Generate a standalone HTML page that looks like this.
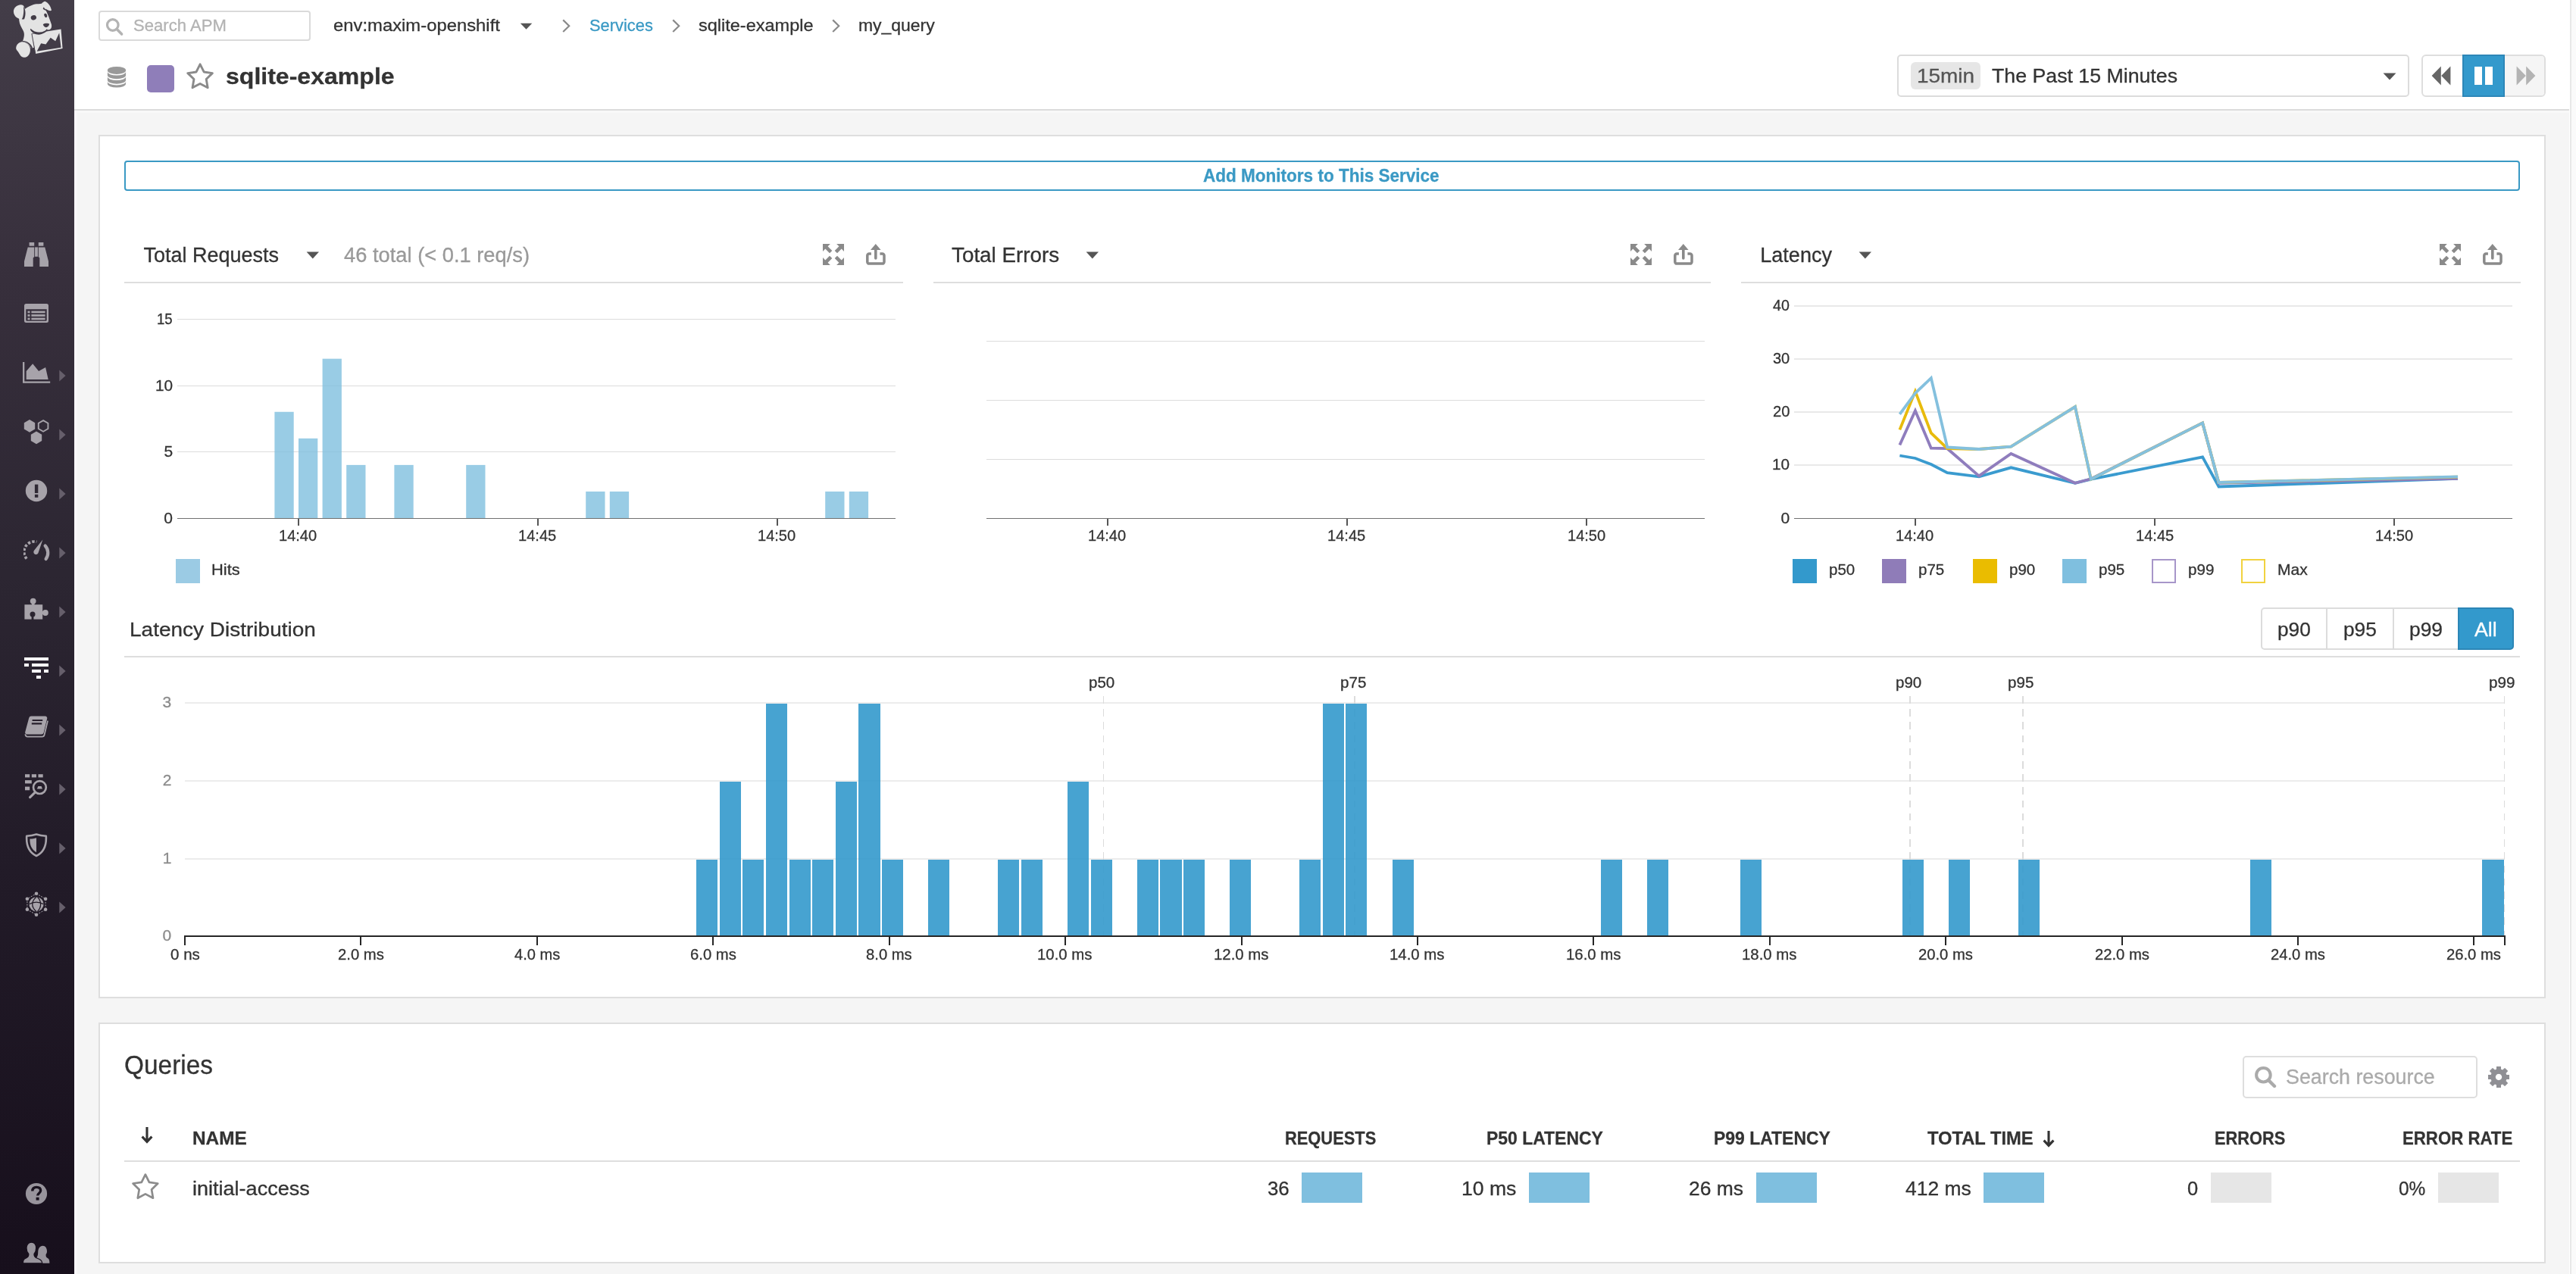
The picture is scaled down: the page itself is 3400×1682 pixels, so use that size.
<!DOCTYPE html>
<html><head><meta charset="utf-8"><title>sqlite-example | APM</title>
<style>
html,body{margin:0;padding:0}
body{width:3400px;height:1682px;overflow:hidden;position:relative;background:#f5f5f5;font-family:"Liberation Sans",sans-serif}
.t{position:absolute;white-space:pre;line-height:1;display:block;transform-origin:0 0;-webkit-text-stroke:0.3px}
.r{position:absolute;display:block}
</style></head>
<body>
<div id="w" style="position:absolute;left:0;top:0;width:3400px;height:1682px;will-change:transform">
<div class="r" style="left:98.00px;top:0.00px;width:3302.00px;height:1682.00px;background:#f5f5f5;"></div>
<div class="r" style="left:98.00px;top:0.00px;width:3302.00px;height:144.00px;background:#fff;border-bottom:2px solid #dcdcdc;"></div>
<div class="r" style="left:98.00px;top:146.00px;width:3293.00px;height:3.00px;background:#f8f8f8;"></div>
<div class="r" style="left:98.00px;top:146.00px;width:4.00px;height:1536.00px;background:#f9f7f9;"></div>
<div class="r" style="left:130px;top:14px;width:280px;height:40px;box-sizing:border-box;border:2px solid #dadada;border-radius:4px;background:#fff"></div>
<svg class="r" style="left:138px;top:22px" width="28" height="28" viewBox="0 0 28 28"><circle cx="10.8" cy="11" r="7.3" fill="none" stroke="#b3b3b3" stroke-width="3.2"/><path d="M16.2 16.6 L22.6 23" stroke="#b3b3b3" stroke-width="3.6" stroke-linecap="round"/></svg>
<span class="t" style="left:175.91px;top:23.25px;font-size:22.5px;color:#b3b3b3;transform:scaleX(0.9822);">Search APM</span>
<span class="t" style="left:439.55px;top:22.65px;font-size:22.5px;color:#333;transform:scaleX(1.0593);">env:maxim-openshift</span>
<svg class="r" style="left:686px;top:30px" width="18" height="10" viewBox="0 0 18 10"><path d="M0.8 0.8 H16.3 L8.55 8.8 Z" fill="#555"/></svg>
<svg class="r" style="left:742px;top:25px" width="12" height="20" viewBox="0 0 12 20"><path d="M1.2 1.4 L9.2 9.2 L1.2 17" fill="none" stroke="#8a8a8a" stroke-width="2.2"/></svg>
<svg class="r" style="left:887px;top:25px" width="12" height="20" viewBox="0 0 12 20"><path d="M1.2 1.4 L9.2 9.2 L1.2 17" fill="none" stroke="#8a8a8a" stroke-width="2.2"/></svg>
<svg class="r" style="left:1098.3px;top:25px" width="12" height="20" viewBox="0 0 12 20"><path d="M1.2 1.4 L9.2 9.2 L1.2 17" fill="none" stroke="#8a8a8a" stroke-width="2.2"/></svg>
<span class="t" style="left:777.72px;top:22.65px;font-size:22.5px;color:#3a99c4;transform:scaleX(0.9717);">Services</span>
<span class="t" style="left:921.79px;top:22.65px;font-size:22.5px;color:#333;transform:scaleX(1.0445);">sqlite-example</span>
<span class="t" style="left:1132.51px;top:22.65px;font-size:22.5px;color:#333;transform:scaleX(1.0194);">my_query</span>
<svg class="r" style="left:0;top:0" width="400" height="160" viewBox="0 0 400 160"><g fill="#999"><ellipse cx="154.0" cy="92.9" rx="12.1" ry="5.0"/><path d="M141.9 94.6 A12.1 5.0 0 0 0 166.1 94.6 V99.2 A12.1 5.0 0 0 1 141.9 99.2Z"/><path d="M141.9 101.1 A12.1 5.0 0 0 0 166.1 101.1 V105.7 A12.1 5.0 0 0 1 141.9 105.7Z"/><path d="M141.9 107.5 A12.1 5.0 0 0 0 166.1 107.5 V110.6 A12.1 5.0 0 0 1 141.9 110.6Z"/></g></svg>
<div class="r" style="left:194.30px;top:86.30px;width:35.50px;height:35.50px;background:#8f7eb9;border-radius:5px;"></div>
<svg class="r" style="left:0;top:0" width="3400" height="1682" viewBox="0 0 3400 1682"><polygon points="264.10,84.80 269.13,94.98 280.36,96.62 272.23,104.54 274.15,115.73 264.10,110.45 254.05,115.73 255.97,104.54 247.84,96.62 259.07,94.98" fill="none" stroke="#8a8a8a" stroke-width="2.9" stroke-linejoin="round"/></svg>
<span class="t" style="left:297.68px;top:86.33px;font-size:29.5px;color:#333;font-weight:bold;transform:scaleX(1.0862);">sqlite-example</span>
<div class="r" style="left:2504px;top:72px;width:676px;height:56px;box-sizing:border-box;border:2px solid #dcdcdc;border-radius:5px;background:#fff"></div>
<div class="r" style="left:2522.30px;top:82.00px;width:91.60px;height:36.00px;background:#e6e6e6;border-radius:6px;"></div>
<span class="t" style="left:2529.71px;top:87.71px;font-size:25.5px;color:#555;transform:scaleX(1.0953);">15min</span>
<span class="t" style="left:2629.47px;top:87.71px;font-size:25.5px;color:#333;transform:scaleX(1.0476);">The Past 15 Minutes</span>
<svg class="r" style="left:3145px;top:96px" width="18" height="10" viewBox="0 0 18 10"><path d="M0.5 0.5 H17.5 L9 9.6 Z" fill="#555"/></svg>
<div class="r" style="left:3196px;top:72px;width:164px;height:56px;box-sizing:border-box;border:2px solid #dedede;border-radius:6px;background:#fff;overflow:hidden"><div style="position:absolute;left:108px;top:0;width:60px;height:56px;background:#f5f5f5"></div></div>
<div class="r" style="left:3250.00px;top:72.00px;width:56.00px;height:56.00px;background:#3399cc;box-sizing:border-box;border:2px solid #2d87b8;"></div>
<svg class="r" style="left:3209px;top:87px" width="26" height="26" viewBox="0 0 26 26"><path d="M12.8 0.6 V25.4 L0.6 13Z M25.4 0.6 V25.4 L13.2 13Z" fill="#666"/></svg>
<div class="r" style="left:3265.70px;top:88.00px;width:10.00px;height:24.00px;background:#fff;"></div>
<div class="r" style="left:3280.00px;top:88.00px;width:10.00px;height:24.00px;background:#fff;"></div>
<svg class="r" style="left:3321px;top:87px" width="26" height="26" viewBox="0 0 26 26"><path d="M0.6 0.6 V25.4 L12.8 13Z M13.2 0.6 V25.4 L25.4 13Z" fill="#b3b3b3"/></svg>
<div class="r" style="left:3391.00px;top:0.00px;width:1.00px;height:1682.00px;background:#fff;"></div>
<div class="r" style="left:3392.00px;top:0.00px;width:2.00px;height:1682.00px;background:#e8e8e8;"></div>
<div class="r" style="left:3394.00px;top:0.00px;width:6.00px;height:1682.00px;background:#fafafa;"></div>
<div class="r" style="left:0;top:0;width:98px;height:1682px;background:linear-gradient(180deg,#433d48 0%,#372f3c 22%,#2c2632 45%,#221b28 68%,#170f1c 100%)"></div>
<svg class="r" style="left:0;top:0" width="100" height="100" viewBox="0 0 1274 1274">
<g fill="#e3e3e3">
<path d="M228 190 C228 112 328 56 388 88 C432 130 428 250 400 322 C340 338 228 292 228 190Z"/>
<path d="M322 345 C305 235 420 125 540 85 C600 55 660 75 700 62 C720 40 740 22 762 24 C812 40 862 120 866 176 C840 192 790 162 760 146 C800 230 832 310 862 400 C882 462 850 512 800 500 C770 540 700 562 650 556 L552 578 L575 800 L522 812 C500 760 440 702 378 702 C402 640 420 580 392 520 C360 460 328 410 322 345Z"/>
<path d="M272 790 C290 720 360 690 420 712 C490 740 520 800 506 870 C490 940 440 980 384 962 C340 950 330 900 296 860 C276 840 264 820 272 790Z"/>
<path d="M538 568 L1026 492 L1052 816 L600 906Z"/>
</g>
<g fill="#423c47">
<path d="M620 862 L690 730 L770 746 L850 634 L932 690 L996 554 L1026 800Z"/>
<ellipse cx="565" cy="296" rx="47" ry="40" transform="rotate(-20 565 296)"/>
<ellipse cx="768" cy="260" rx="24" ry="36" transform="rotate(-20 768 260)"/>
<path d="M724 410 C745 390 805 386 830 402 C824 442 790 464 768 460 C744 452 728 432 724 410Z"/>
<path d="M516 482 C560 532 640 556 700 540 C745 528 772 512 788 488 L800 500 C775 545 720 576 650 582 C585 580 535 548 508 496Z"/>
<path d="M392 108 C432 150 440 250 408 322 C395 326 380 326 366 322 C392 300 408 170 392 108Z"/>
<path d="M722 150 C745 167 770 182 802 187 C775 175 750 150 736 118Z"/>
<path d="M372 702 C440 696 505 750 524 814 L548 806 C526 736 450 684 386 688Z"/>
</g>
<path d="M534 566 L596 912" stroke="#423c47" stroke-width="12" fill="none"/>
<path d="M534 570 L700 544" stroke="#423c47" stroke-width="9" fill="none"/>
</svg>
<svg class="r" style="left:32px;top:319.8px" width="32" height="32" viewBox="0 0 32 32"><g fill="#a7a3aa">
<rect x="6.6" y="0" width="6.6" height="4.7"/><rect x="18.8" y="0" width="6.6" height="4.7"/>
<path d="M4.7 6.4 H13.2 V19 L11.7 20.5 V32 H0 V25Z"/><path d="M27.3 6.4 H18.8 V19 L20.3 20.5 V32 H32 V25Z"/>
<rect x="14.1" y="6.4" width="3.8" height="12.4"/></g></svg>
<svg class="r" style="left:32px;top:401px" width="32" height="25" viewBox="0 0 32 25">
<path fill-rule="evenodd" fill="#a7a3aa" d="M2.5 0 H29.5 A2.5 2.5 0 0 1 32 2.5 V22.5 A2.5 2.5 0 0 1 29.5 25 H2.5 A2.5 2.5 0 0 1 0 22.5 V2.5 A2.5 2.5 0 0 1 2.5 0Z M2.3 7.2 V21.6 A1 1 0 0 0 3.3 22.7 H28.7 A1 1 0 0 0 29.7 21.6 V7.2Z"/>
<g fill="#a7a3aa"><rect x="4.5" y="9.6" width="3" height="2.7"/><rect x="9.4" y="9.6" width="18.2" height="2.7"/>
<rect x="4.5" y="14.1" width="3" height="2.7"/><rect x="9.4" y="14.1" width="18.2" height="2.7"/>
<rect x="4.5" y="18.6" width="3" height="2.7"/><rect x="9.4" y="18.6" width="18.2" height="2.7"/></g></svg>
<svg class="r" style="left:29.8px;top:478px" width="37" height="28" viewBox="0 0 37 28"><g fill="#a7a3aa">
<path d="M0 0 H2.3 V25.4 H36.2 V27.7 H0Z"/><path d="M4.7 23 V12 L13.2 2.3 L21.1 12 L30.1 7 L33.7 23Z"/></g></svg>
<svg class="r" style="left:78px;top:488.3px" width="10" height="16" viewBox="0 0 10 16"><path d="M0.3 0.5 L8.6 8 L0.3 15.5Z" fill="#665f6b"/></svg>
<svg class="r" style="left:31px;top:553px" width="35" height="35" viewBox="0 0 35 35">
<polygon points="8.00,1.10 15.19,5.25 15.19,13.55 8.00,17.70 0.81,13.55 0.81,5.25" fill="#a7a3aa"/><polygon points="17.00,16.60 24.19,20.75 24.19,29.05 17.00,33.20 9.81,29.05 9.81,20.75" fill="#a7a3aa"/>
<polygon points="26.10,2.10 32.42,5.75 32.42,13.05 26.10,16.70 19.78,13.05 19.78,5.75" fill="none" stroke="#a7a3aa" stroke-width="1.9"/></svg>
<svg class="r" style="left:78px;top:566.3px" width="10" height="16" viewBox="0 0 10 16"><path d="M0.3 0.5 L8.6 8 L0.3 15.5Z" fill="#665f6b"/></svg>
<svg class="r" style="left:33px;top:633px" width="30" height="30" viewBox="0 0 30 30"><circle cx="15" cy="15" r="14.2" fill="#a7a3aa"/>
<rect x="12.9" y="6.6" width="4.4" height="11.4" fill="#2f2934"/><rect x="12.9" y="19.8" width="4.4" height="4" fill="#2f2934"/></svg>
<svg class="r" style="left:78px;top:644.0px" width="10" height="16" viewBox="0 0 10 16"><path d="M0.3 0.5 L8.6 8 L0.3 15.5Z" fill="#665f6b"/></svg>
<svg class="r" style="left:31px;top:711px" width="35" height="30" viewBox="0 0 35 30">
<path d="M4.2 26.6 A13.6 13.6 0 0 1 17.4 4.3" fill="none" stroke="#a7a3aa" stroke-width="3.6" stroke-dasharray="3.4 2.2"/>
<path d="M28.6 9.5 A13.8 13.8 0 0 1 29.6 27" fill="none" stroke="#a7a3aa" stroke-width="4.2" stroke-linecap="round"/>
<path d="M25.4 1.6 L14.2 15.6 A3.2 3.2 0 1 0 19.4 19.2Z" fill="#a7a3aa"/></svg>
<svg class="r" style="left:78px;top:721.7px" width="10" height="16" viewBox="0 0 10 16"><path d="M0.3 0.5 L8.6 8 L0.3 15.5Z" fill="#665f6b"/></svg>
<svg class="r" style="left:31px;top:789px" width="34" height="30" viewBox="0 0 34 30">
<g fill="#a7a3aa"><rect x="1.4" y="9.2" width="23.8" height="19.4"/><circle cx="12.7" cy="4.6" r="3.9"/><rect x="10.9" y="5" width="3.6" height="5"/>
<circle cx="28.9" cy="20" r="3.9"/><rect x="24" y="18.2" width="5" height="3.6"/></g>
<circle cx="12" cy="22" r="3.5" fill="#2a242f"/><rect x="10.6" y="23" width="2.8" height="6" fill="#2a242f"/></svg>
<svg class="r" style="left:78px;top:800.0px" width="10" height="16" viewBox="0 0 10 16"><path d="M0.3 0.5 L8.6 8 L0.3 15.5Z" fill="#665f6b"/></svg>
<div class="r" style="left:31.65px;top:867.59px;width:32.40px;height:4.52px;background:#fff;"></div>
<div class="r" style="left:31.65px;top:875.88px;width:6.41px;height:4.33px;background:#fff;"></div>
<div class="r" style="left:41.82px;top:875.88px;width:22.23px;height:4.33px;background:#fff;"></div>
<div class="r" style="left:41.82px;top:883.79px;width:12.43px;height:4.52px;background:#fff;"></div>
<div class="r" style="left:58.03px;top:883.79px;width:6.03px;height:4.52px;background:#fff;"></div>
<div class="r" style="left:48.04px;top:892.08px;width:6.22px;height:4.14px;background:#fff;"></div>
<svg class="r" style="left:78px;top:877.9px" width="10" height="16" viewBox="0 0 10 16"><path d="M0.3 0.5 L8.6 8 L0.3 15.5Z" fill="#665f6b"/></svg>
<svg class="r" style="left:32px;top:945px" width="32" height="30" viewBox="0 0 32 30">
<path d="M9.4 0.6 H27.6 A2.6 2.6 0 0 1 30.2 3.8 L25.6 22.4 A3 3 0 0 1 22.8 24.6 H3.6 A2.6 2.6 0 0 1 1.2 21.4 L6.2 3 A3.2 3.2 0 0 1 9.4 0.6Z" fill="#a7a3aa"/>
<path d="M1.6 24.2 A2.8 2.8 0 0 0 4.4 27.6 H23.4 A3.2 3.2 0 0 0 26.6 25 L31 6.6" fill="none" stroke="#a7a3aa" stroke-width="1.8"/>
<path d="M10.6 6 H24.2 M9.8 10.4 H23.2" stroke="#27202c" stroke-width="2.2"/></svg>
<svg class="r" style="left:78px;top:956.0px" width="10" height="16" viewBox="0 0 10 16"><path d="M0.3 0.5 L8.6 8 L0.3 15.5Z" fill="#665f6b"/></svg>
<svg class="r" style="left:32px;top:1021px" width="33" height="34" viewBox="0 0 33 34"><g fill="#a7a3aa">
<rect x="1" y="1.2" width="6.2" height="4.2"/><rect x="9.8" y="1.2" width="6.2" height="4.2"/><rect x="18.5" y="1.2" width="6.2" height="4.2"/>
<rect x="1" y="9.1" width="8.8" height="4.3"/><rect x="1" y="17.6" width="6.2" height="4.7"/></g>
<circle cx="20.4" cy="18.6" r="8.4" fill="none" stroke="#a7a3aa" stroke-width="2.7"/>
<path d="M14 25.4 L7.6 31.6" stroke="#a7a3aa" stroke-width="3.2" stroke-linecap="round"/>
<path d="M16.8 20.6 L18.4 17 H22.6 L24 20.6Z" fill="#a7a3aa"/></svg>
<svg class="r" style="left:78px;top:1033.6px" width="10" height="16" viewBox="0 0 10 16"><path d="M0.3 0.5 L8.6 8 L0.3 15.5Z" fill="#665f6b"/></svg>
<svg class="r" style="left:33px;top:1100px" width="30" height="32" viewBox="0 0 30 32">
<path d="M15 1.6 C19.5 3 24 3.6 27.8 3.8 C28.4 14 26.4 24.4 15 30 C3.6 24.4 1.6 14 2.2 3.8 C6 3.6 10.5 3 15 1.6Z" fill="none" stroke="#a7a3aa" stroke-width="2.6" stroke-linejoin="round"/>
<path d="M15 6.2 V25.2 C8.6 21.6 6.2 15.6 6.4 7.6 C9.6 7.4 12.4 7 15 6.2Z" fill="#a7a3aa"/></svg>
<svg class="r" style="left:78px;top:1112.0px" width="10" height="16" viewBox="0 0 10 16"><path d="M0.3 0.5 L8.6 8 L0.3 15.5Z" fill="#665f6b"/></svg>
<svg class="r" style="left:32px;top:1177px" width="32" height="34" viewBox="0 0 32 34"><polygon points="16.0,2.8 28.1,9.8 28.1,23.8 16.0,30.8 3.9,23.8 3.9,9.8" fill="none" stroke="#a7a3aa" stroke-width="1" stroke-dasharray="2 1.6"/><circle cx="16.0" cy="2.8" r="2.3" fill="#a7a3aa"/><circle cx="28.1" cy="9.8" r="2.3" fill="#a7a3aa"/><circle cx="28.1" cy="23.8" r="2.3" fill="#a7a3aa"/><circle cx="16.0" cy="30.8" r="2.3" fill="#a7a3aa"/><circle cx="3.9" cy="23.8" r="2.3" fill="#a7a3aa"/><circle cx="3.9" cy="9.8" r="2.3" fill="#a7a3aa"/><circle cx="16" cy="16.8" r="9.6" fill="#a7a3aa"/><path d="M16 7.200000000000001 C9 12.8 9 20.8 16 26.4 M17.5 7.200000000000001 C23 12.8 23 20.8 17.5 26.4 M6.4 16.8 C12 13.3 20 13.3 25.6 16.8" fill="none" stroke="#211a26" stroke-width="1.3"/></svg>
<svg class="r" style="left:78px;top:1190.0px" width="10" height="16" viewBox="0 0 10 16"><path d="M0.3 0.5 L8.6 8 L0.3 15.5Z" fill="#665f6b"/></svg>
<svg class="r" style="left:33px;top:1561px" width="30" height="30" viewBox="0 0 30 30"><circle cx="15" cy="15" r="14.1" fill="#98949c"/>
<path d="M9.8 11.6 C9.8 8 12 6.4 15.2 6.4 C18.6 6.4 20.6 8.2 20.6 10.8 C20.6 14.6 16.6 14.4 16.6 17.6" fill="none" stroke="#18111d" stroke-width="3.4"/>
<rect x="14.6" y="19.8" width="4" height="3.8" fill="#18111d"/></svg>
<svg class="r" style="left:30px;top:1640px" width="36" height="28" viewBox="0 0 36 28"><g fill="#98949c">
<path d="M22 27.8 C21.4 24 19.6 22 17.6 21 C19.4 19.6 20.2 17 20.2 13.6 C20.2 8.4 22.6 4.8 26.4 4.8 C30 4.8 32 8 32 12 C32 14 31.4 15 30.6 16 C30.4 18.6 30.8 20 32.4 20.8 C34.6 21.8 35.4 23.6 35.4 27.8Z"/>
<path d="M0.4 27.8 C0.4 23 2 21.8 5 20.6 C7.4 19.6 8 18 7.8 15.4 C6.2 13.8 5 11 5 7.8 C5 3.4 7.6 0.2 11.4 0.2 C15.2 0.2 17.6 3.4 17.6 7.8 C17.6 11 16.6 13.8 15 15.4 C14.8 18 15.4 19.4 17.8 20.6 C21.6 22.2 25.4 23 25.8 27.8Z" stroke="#170f1c" stroke-width="1.2"/></g></svg>
<div class="r" style="left:130px;top:178px;width:3230px;height:1140px;box-sizing:border-box;border:2px solid #dedede;background:#fff"></div>
<div class="r" style="left:164px;top:212px;width:3162px;height:40px;box-sizing:border-box;border:2px solid #3a99c4;border-radius:4px;background:#fff"></div>
<span class="t" style="left:1588.29px;top:220.73px;font-size:23px;color:#3a99c4;font-weight:bold;transform:scaleX(0.9794);">Add Monitors to This Service</span>
<span class="t" style="left:189.46px;top:324.34px;font-size:27px;color:#333;">Total Requests</span>
<svg class="r" style="left:403.5px;top:332px" width="18" height="10" viewBox="0 0 18 10"><path d="M0.6 0.4 H17 L8.8 9.6 Z" fill="#555"/></svg>
<span class="t" style="left:453.95px;top:324.34px;font-size:27px;color:#999;transform:scaleX(1.0110);">46 total (&lt; 0.1 req/s)</span>
<svg class="r" style="left:1086px;top:322px" width="28" height="28" viewBox="0 0 28 28"><g fill="#8a8a8a"><path d="M0 0 H9.9 L6.6 3.3 L12.3 9 L9 12.3 L3.3 6.6 L0 9.9Z"/><path d="M0 0 H9.9 L6.6 3.3 L12.3 9 L9 12.3 L3.3 6.6 L0 9.9Z" transform="translate(28,0) scale(-1,1)"/><path d="M0 0 H9.9 L6.6 3.3 L12.3 9 L9 12.3 L3.3 6.6 L0 9.9Z" transform="translate(0,28) scale(1,-1)"/><path d="M0 0 H9.9 L6.6 3.3 L12.3 9 L9 12.3 L3.3 6.6 L0 9.9Z" transform="translate(28,28) scale(-1,-1)"/></g></svg>
<svg class="r" style="left:1143px;top:321.6px" width="27" height="29" viewBox="0 0 27 29"><path d="M6.9 13 H4.2 A2.4 2.4 0 0 0 1.8 15.4 V23.7 A2.4 2.4 0 0 0 4.2 26.1 H21.6 A2.4 2.4 0 0 0 24 23.7 V15.4 A2.4 2.4 0 0 0 21.6 13 H18.4" fill="none" stroke="#8a8a8a" stroke-width="3.5"/><path d="M12.8 0 L19.6 7.9 H14.6 V19 A1.8 1.8 0 0 1 11 19 V7.9 H6 Z" fill="#8a8a8a"/></svg>
<div class="r" style="left:164.00px;top:372.00px;width:1028.00px;height:2.00px;background:#dedede;"></div>
<div class="r" style="left:234.00px;top:421.00px;width:948.00px;height:1.00px;background:#dcdcdc;"></div>
<div class="r" style="left:234.00px;top:509.00px;width:948.00px;height:1.00px;background:#dcdcdc;"></div>
<div class="r" style="left:234.00px;top:596.00px;width:948.00px;height:1.00px;background:#dcdcdc;"></div>
<span class="t" style="left:207.31px;top:409.92px;font-size:21px;color:#333;transform:scaleX(0.8854);">15</span>
<span class="t" style="left:204.84px;top:497.92px;font-size:21px;color:#333;transform:scaleX(0.9905);">10</span>
<span class="t" style="left:216.38px;top:584.92px;font-size:21px;color:#333;">5</span>
<span class="t" style="left:216.28px;top:672.92px;font-size:21px;color:#333;">0</span>
<svg class="r" style="left:0;top:0" width="1300" height="700" viewBox="0 0 1300 700"><rect x="362.40" y="543.76" width="25.3" height="140.24" fill="rgba(127,191,223,0.8)"/><rect x="394.00" y="578.82" width="25.3" height="105.18" fill="rgba(127,191,223,0.8)"/><rect x="425.60" y="473.64" width="25.3" height="210.36" fill="rgba(127,191,223,0.8)"/><rect x="457.20" y="613.88" width="25.3" height="70.12" fill="rgba(127,191,223,0.8)"/><rect x="520.40" y="613.88" width="25.3" height="70.12" fill="rgba(127,191,223,0.8)"/><rect x="615.20" y="613.88" width="25.3" height="70.12" fill="rgba(127,191,223,0.8)"/><rect x="773.20" y="648.94" width="25.3" height="35.06" fill="rgba(127,191,223,0.8)"/><rect x="804.80" y="648.94" width="25.3" height="35.06" fill="rgba(127,191,223,0.8)"/><rect x="1089.20" y="648.94" width="25.3" height="35.06" fill="rgba(127,191,223,0.8)"/><rect x="1120.80" y="648.94" width="25.3" height="35.06" fill="rgba(127,191,223,0.8)"/></svg>
<div class="r" style="left:234.00px;top:684.00px;width:948.00px;height:1.00px;background:#707070;"></div>
<div class="r" style="left:393.00px;top:685.00px;width:2.00px;height:9.00px;background:#555;"></div>
<span class="t" style="left:368.45px;top:696.02px;font-size:21px;color:#333;transform:scaleX(0.9544);">14:40</span>
<div class="r" style="left:709.00px;top:685.00px;width:2.00px;height:9.00px;background:#555;"></div>
<span class="t" style="left:684.44px;top:696.02px;font-size:21px;color:#333;transform:scaleX(0.9564);">14:45</span>
<div class="r" style="left:1025.00px;top:685.00px;width:2.00px;height:9.00px;background:#555;"></div>
<span class="t" style="left:1000.45px;top:696.02px;font-size:21px;color:#333;transform:scaleX(0.9544);">14:50</span>
<div class="r" style="left:231.60px;top:738.00px;width:32.40px;height:32.00px;background:#9bcbe4;"></div>
<span class="t" style="left:278.55px;top:742.22px;font-size:20.3px;color:#333;transform:scaleX(1.0804);">Hits</span>
<span class="t" style="left:1256.44px;top:324.34px;font-size:27px;color:#333;transform:scaleX(1.0306);">Total Errors</span>
<svg class="r" style="left:1433px;top:332px" width="18" height="10" viewBox="0 0 18 10"><path d="M0.6 0.4 H17 L8.8 9.6 Z" fill="#555"/></svg>
<svg class="r" style="left:2152px;top:322px" width="28" height="28" viewBox="0 0 28 28"><g fill="#8a8a8a"><path d="M0 0 H9.9 L6.6 3.3 L12.3 9 L9 12.3 L3.3 6.6 L0 9.9Z"/><path d="M0 0 H9.9 L6.6 3.3 L12.3 9 L9 12.3 L3.3 6.6 L0 9.9Z" transform="translate(28,0) scale(-1,1)"/><path d="M0 0 H9.9 L6.6 3.3 L12.3 9 L9 12.3 L3.3 6.6 L0 9.9Z" transform="translate(0,28) scale(1,-1)"/><path d="M0 0 H9.9 L6.6 3.3 L12.3 9 L9 12.3 L3.3 6.6 L0 9.9Z" transform="translate(28,28) scale(-1,-1)"/></g></svg>
<svg class="r" style="left:2209px;top:321.6px" width="27" height="29" viewBox="0 0 27 29"><path d="M6.9 13 H4.2 A2.4 2.4 0 0 0 1.8 15.4 V23.7 A2.4 2.4 0 0 0 4.2 26.1 H21.6 A2.4 2.4 0 0 0 24 23.7 V15.4 A2.4 2.4 0 0 0 21.6 13 H18.4" fill="none" stroke="#8a8a8a" stroke-width="3.5"/><path d="M12.8 0 L19.6 7.9 H14.6 V19 A1.8 1.8 0 0 1 11 19 V7.9 H6 Z" fill="#8a8a8a"/></svg>
<div class="r" style="left:1232.00px;top:372.00px;width:1026.00px;height:2.00px;background:#dedede;"></div>
<div class="r" style="left:1301.60px;top:450.00px;width:948.40px;height:1.00px;background:#dcdcdc;"></div>
<div class="r" style="left:1301.60px;top:528.00px;width:948.40px;height:1.00px;background:#dcdcdc;"></div>
<div class="r" style="left:1301.60px;top:606.00px;width:948.40px;height:1.00px;background:#dcdcdc;"></div>
<div class="r" style="left:1301.60px;top:684.00px;width:948.40px;height:1.00px;background:#707070;"></div>
<div class="r" style="left:1461.00px;top:685.00px;width:2.00px;height:9.00px;background:#555;"></div>
<span class="t" style="left:1436.35px;top:696.02px;font-size:21px;color:#333;transform:scaleX(0.9544);">14:40</span>
<div class="r" style="left:1777.00px;top:685.00px;width:2.00px;height:9.00px;background:#555;"></div>
<span class="t" style="left:1752.34px;top:696.02px;font-size:21px;color:#333;transform:scaleX(0.9564);">14:45</span>
<div class="r" style="left:2093.00px;top:685.00px;width:2.00px;height:9.00px;background:#555;"></div>
<span class="t" style="left:2068.55px;top:696.02px;font-size:21px;color:#333;transform:scaleX(0.9544);">14:50</span>
<span class="t" style="left:2323.34px;top:324.34px;font-size:27px;color:#333;">Latency</span>
<svg class="r" style="left:2453px;top:332px" width="18" height="10" viewBox="0 0 18 10"><path d="M0.6 0.4 H17 L8.8 9.6 Z" fill="#555"/></svg>
<svg class="r" style="left:3220px;top:322px" width="28" height="28" viewBox="0 0 28 28"><g fill="#8a8a8a"><path d="M0 0 H9.9 L6.6 3.3 L12.3 9 L9 12.3 L3.3 6.6 L0 9.9Z"/><path d="M0 0 H9.9 L6.6 3.3 L12.3 9 L9 12.3 L3.3 6.6 L0 9.9Z" transform="translate(28,0) scale(-1,1)"/><path d="M0 0 H9.9 L6.6 3.3 L12.3 9 L9 12.3 L3.3 6.6 L0 9.9Z" transform="translate(0,28) scale(1,-1)"/><path d="M0 0 H9.9 L6.6 3.3 L12.3 9 L9 12.3 L3.3 6.6 L0 9.9Z" transform="translate(28,28) scale(-1,-1)"/></g></svg>
<svg class="r" style="left:3277px;top:321.6px" width="27" height="29" viewBox="0 0 27 29"><path d="M6.9 13 H4.2 A2.4 2.4 0 0 0 1.8 15.4 V23.7 A2.4 2.4 0 0 0 4.2 26.1 H21.6 A2.4 2.4 0 0 0 24 23.7 V15.4 A2.4 2.4 0 0 0 21.6 13 H18.4" fill="none" stroke="#8a8a8a" stroke-width="3.5"/><path d="M12.8 0 L19.6 7.9 H14.6 V19 A1.8 1.8 0 0 1 11 19 V7.9 H6 Z" fill="#8a8a8a"/></svg>
<div class="r" style="left:2298.00px;top:372.00px;width:1028.50px;height:2.00px;background:#dedede;"></div>
<div class="r" style="left:2368.00px;top:403.00px;width:948.20px;height:2.00px;background:#e9e9e9;"></div>
<div class="r" style="left:2368.00px;top:473.00px;width:948.20px;height:2.00px;background:#e9e9e9;"></div>
<div class="r" style="left:2368.00px;top:543.00px;width:948.20px;height:2.00px;background:#e9e9e9;"></div>
<div class="r" style="left:2368.00px;top:613.00px;width:948.20px;height:2.00px;background:#e9e9e9;"></div>
<span class="t" style="left:2340.21px;top:392.02px;font-size:21px;color:#333;transform:scaleX(0.9343);">40</span>
<span class="t" style="left:2339.80px;top:462.02px;font-size:21px;color:#333;transform:scaleX(0.9524);">30</span>
<span class="t" style="left:2339.59px;top:532.02px;font-size:21px;color:#333;transform:scaleX(0.9617);">20</span>
<span class="t" style="left:2339.05px;top:602.02px;font-size:21px;color:#333;transform:scaleX(0.9857);">10</span>
<span class="t" style="left:2350.38px;top:672.52px;font-size:21px;color:#333;">0</span>
<div class="r" style="left:2368.00px;top:684.00px;width:948.20px;height:1.00px;background:#707070;"></div>
<div class="r" style="left:2527.00px;top:685.00px;width:2.00px;height:9.00px;background:#555;"></div>
<span class="t" style="left:2502.45px;top:696.02px;font-size:21px;color:#333;transform:scaleX(0.9544);">14:40</span>
<div class="r" style="left:2843.00px;top:685.00px;width:2.00px;height:9.00px;background:#555;"></div>
<span class="t" style="left:2818.84px;top:696.02px;font-size:21px;color:#333;transform:scaleX(0.9564);">14:45</span>
<div class="r" style="left:3159.00px;top:685.00px;width:2.00px;height:9.00px;background:#555;"></div>
<span class="t" style="left:3134.55px;top:696.02px;font-size:21px;color:#333;transform:scaleX(0.9544);">14:50</span>
<svg class="r" style="left:0;top:0" width="3400" height="800" viewBox="0 0 3400 800"><polyline points="2507.4,601.5 2527.9,605.0 2548.8,613.1 2570.2,624.2 2612.0,629.3 2654.3,617.3 2738.9,637.8 2759.8,632.7 2907.1,603.3 2928.5,642.5 3244.0,631.9" fill="none" stroke="#3a9bcf" stroke-width="3.8" stroke-linejoin="miter"/><polyline points="2507.4,587.5 2527.9,542.2 2548.8,591.7 2570.2,592.2 2612.0,628.4 2654.3,599.0 2738.9,637.8 2759.8,632.3 2907.1,558.4 2928.5,637.8 3244.0,631.9" fill="none" stroke="#8f7dbd" stroke-width="3.8" stroke-linejoin="miter"/><polyline points="2507.4,567.4 2527.9,516.6 2548.8,571.7 2570.2,592.2 2612.0,593.0 2654.3,589.6 2738.9,537.1 2759.8,632.7 2907.1,558.4 2928.5,637.0 3244.0,629.7" fill="none" stroke="#e8bb0c" stroke-width="3.8" stroke-linejoin="miter"/><polyline points="2507.4,546.9 2527.9,519.1 2548.8,499.1 2570.2,590.4 2612.0,593.0 2654.3,589.6 2738.9,537.1 2759.8,632.7 2907.1,558.4 2928.5,637.0 3244.0,629.3" fill="none" stroke="#84c0de" stroke-width="3.8" stroke-linejoin="miter"/></svg>
<div class="r" style="left:2366.00px;top:738.00px;width:32.00px;height:32.00px;background:#3399cc;"></div>
<span class="t" style="left:2414.17px;top:742.22px;font-size:20.3px;color:#333;transform:scaleX(1.0104);">p50</span>
<div class="r" style="left:2484.30px;top:738.00px;width:32.00px;height:32.00px;background:#8f7cb8;"></div>
<span class="t" style="left:2532.46px;top:742.22px;font-size:20.3px;color:#333;transform:scaleX(1.0136);">p75</span>
<div class="r" style="left:2603.80px;top:738.00px;width:32.00px;height:32.00px;background:#eabc00;"></div>
<span class="t" style="left:2651.97px;top:742.22px;font-size:20.3px;color:#333;transform:scaleX(1.0104);">p90</span>
<div class="r" style="left:2722.20px;top:738.00px;width:32.00px;height:32.00px;background:#7fbfdf;"></div>
<span class="t" style="left:2770.36px;top:742.22px;font-size:20.3px;color:#333;transform:scaleX(1.0136);">p95</span>
<div class="r" style="left:2840.3px;top:738px;width:32px;height:32px;box-sizing:border-box;border:2px solid #a796c9;background:#fff"></div>
<span class="t" style="left:2888.46px;top:742.22px;font-size:20.3px;color:#333;transform:scaleX(1.0169);">p99</span>
<div class="r" style="left:2958.4px;top:738px;width:32px;height:32px;box-sizing:border-box;border:2px solid #f1d23f;background:#fff"></div>
<span class="t" style="left:3006.22px;top:742.22px;font-size:20.3px;color:#333;transform:scaleX(1.0372);">Max</span>
<span class="t" style="left:171.46px;top:817.99px;font-size:26px;color:#333;transform:scaleX(1.0766);">Latency Distribution</span>
<div class="r" style="left:164.00px;top:866.00px;width:3162.00px;height:2.00px;background:#dedede;"></div>
<div class="r" style="left:2984px;top:802px;width:334px;height:56px;box-sizing:border-box;border:2px solid #dcdcdc;border-radius:5px;background:#fff"></div>
<div class="r" style="left:3070.30px;top:804.00px;width:2.00px;height:52.00px;background:#dcdcdc;"></div>
<div class="r" style="left:3157.80px;top:804.00px;width:2.00px;height:52.00px;background:#dcdcdc;"></div>
<div class="r" style="left:3244px;top:802px;width:74px;height:56px;box-sizing:border-box;border:2px solid #2c86b6;border-radius:0 5px 5px 0;background:#3399cc"></div>
<span class="t" style="left:3006.20px;top:817.89px;font-size:26px;color:#333;transform:scaleX(1.0076);">p90</span>
<span class="t" style="left:3092.79px;top:817.89px;font-size:26px;color:#333;transform:scaleX(1.0108);">p95</span>
<span class="t" style="left:3179.59px;top:817.89px;font-size:26px;color:#333;transform:scaleX(1.0141);">p99</span>
<span class="t" style="left:3266.30px;top:817.89px;font-size:26px;color:#fff;transform:scaleX(1.0305);">All</span>
<div class="r" style="left:243.60px;top:927.00px;width:3062.90px;height:2.00px;background:#ececec;"></div>
<div class="r" style="left:243.60px;top:1030.00px;width:3062.90px;height:2.00px;background:#ececec;"></div>
<div class="r" style="left:243.60px;top:1133.00px;width:3062.90px;height:2.00px;background:#ececec;"></div>
<span class="t" style="left:214.59px;top:916.02px;font-size:21px;color:#8c8c8c;">3</span>
<span class="t" style="left:214.79px;top:1019.02px;font-size:21px;color:#8c8c8c;">2</span>
<span class="t" style="left:214.69px;top:1122.02px;font-size:21px;color:#8c8c8c;">1</span>
<span class="t" style="left:214.48px;top:1224.02px;font-size:21px;color:#8c8c8c;">0</span>
<div class="r" style="left:1455.8px;top:918.5px;width:1.6px;height:316px;background:repeating-linear-gradient(180deg,#dcdcdc 0,#dcdcdc 9.5px,transparent 9.5px,transparent 17.2px)"></div>
<span class="t" style="left:1437.22px;top:891.07px;font-size:20px;color:#333;transform:scaleX(1.0256);">p50</span>
<div class="r" style="left:1787.2px;top:918.5px;width:1.6px;height:316px;background:repeating-linear-gradient(180deg,#dcdcdc 0,#dcdcdc 9.5px,transparent 9.5px,transparent 17.2px)"></div>
<span class="t" style="left:1768.61px;top:891.07px;font-size:20px;color:#333;transform:scaleX(1.0288);">p75</span>
<div class="r" style="left:2520.4px;top:918.5px;width:1.6px;height:316px;background:repeating-linear-gradient(180deg,#dcdcdc 0,#dcdcdc 9.5px,transparent 9.5px,transparent 17.2px)"></div>
<span class="t" style="left:2501.82px;top:891.07px;font-size:20px;color:#333;transform:scaleX(1.0256);">p90</span>
<div class="r" style="left:2669.0px;top:918.5px;width:1.6px;height:316px;background:repeating-linear-gradient(180deg,#dcdcdc 0,#dcdcdc 9.5px,transparent 9.5px,transparent 17.2px)"></div>
<span class="t" style="left:2650.41px;top:891.07px;font-size:20px;color:#333;transform:scaleX(1.0288);">p95</span>
<div class="r" style="left:3304.9px;top:918.5px;width:1.6px;height:316px;background:repeating-linear-gradient(180deg,#dcdcdc 0,#dcdcdc 9.5px,transparent 9.5px,transparent 17.2px)"></div>
<span class="t" style="left:3285.31px;top:891.07px;font-size:20px;color:#333;transform:scaleX(1.0322);">p99</span>
<div class="r" style="left:919.15px;top:1135.00px;width:28.10px;height:100.00px;background:rgba(51,153,204,0.9);"></div>
<div class="r" style="left:949.76px;top:1032.00px;width:28.10px;height:203.00px;background:rgba(51,153,204,0.9);"></div>
<div class="r" style="left:980.38px;top:1135.00px;width:28.10px;height:100.00px;background:rgba(51,153,204,0.9);"></div>
<div class="r" style="left:1010.99px;top:929.00px;width:28.10px;height:306.00px;background:rgba(51,153,204,0.9);"></div>
<div class="r" style="left:1041.60px;top:1135.00px;width:28.10px;height:100.00px;background:rgba(51,153,204,0.9);"></div>
<div class="r" style="left:1072.22px;top:1135.00px;width:28.10px;height:100.00px;background:rgba(51,153,204,0.9);"></div>
<div class="r" style="left:1102.83px;top:1032.00px;width:28.10px;height:203.00px;background:rgba(51,153,204,0.9);"></div>
<div class="r" style="left:1133.45px;top:929.00px;width:28.10px;height:306.00px;background:rgba(51,153,204,0.9);"></div>
<div class="r" style="left:1164.06px;top:1135.00px;width:28.10px;height:100.00px;background:rgba(51,153,204,0.9);"></div>
<div class="r" style="left:1225.29px;top:1135.00px;width:28.10px;height:100.00px;background:rgba(51,153,204,0.9);"></div>
<div class="r" style="left:1317.13px;top:1135.00px;width:28.10px;height:100.00px;background:rgba(51,153,204,0.9);"></div>
<div class="r" style="left:1347.74px;top:1135.00px;width:28.10px;height:100.00px;background:rgba(51,153,204,0.9);"></div>
<div class="r" style="left:1408.97px;top:1032.00px;width:28.10px;height:203.00px;background:rgba(51,153,204,0.9);"></div>
<div class="r" style="left:1439.59px;top:1135.00px;width:28.10px;height:100.00px;background:rgba(51,153,204,0.9);"></div>
<div class="r" style="left:1500.81px;top:1135.00px;width:28.10px;height:100.00px;background:rgba(51,153,204,0.9);"></div>
<div class="r" style="left:1531.43px;top:1135.00px;width:28.10px;height:100.00px;background:rgba(51,153,204,0.9);"></div>
<div class="r" style="left:1562.04px;top:1135.00px;width:28.10px;height:100.00px;background:rgba(51,153,204,0.9);"></div>
<div class="r" style="left:1623.27px;top:1135.00px;width:28.10px;height:100.00px;background:rgba(51,153,204,0.9);"></div>
<div class="r" style="left:1715.11px;top:1135.00px;width:28.10px;height:100.00px;background:rgba(51,153,204,0.9);"></div>
<div class="r" style="left:1745.73px;top:929.00px;width:28.10px;height:306.00px;background:rgba(51,153,204,0.9);"></div>
<div class="r" style="left:1776.34px;top:929.00px;width:28.10px;height:306.00px;background:rgba(51,153,204,0.9);"></div>
<div class="r" style="left:1837.57px;top:1135.00px;width:28.10px;height:100.00px;background:rgba(51,153,204,0.9);"></div>
<div class="r" style="left:2113.09px;top:1135.00px;width:28.10px;height:100.00px;background:rgba(51,153,204,0.9);"></div>
<div class="r" style="left:2174.32px;top:1135.00px;width:28.10px;height:100.00px;background:rgba(51,153,204,0.9);"></div>
<div class="r" style="left:2296.78px;top:1135.00px;width:28.10px;height:100.00px;background:rgba(51,153,204,0.9);"></div>
<div class="r" style="left:2511.08px;top:1135.00px;width:28.10px;height:100.00px;background:rgba(51,153,204,0.9);"></div>
<div class="r" style="left:2572.30px;top:1135.00px;width:28.10px;height:100.00px;background:rgba(51,153,204,0.9);"></div>
<div class="r" style="left:2664.15px;top:1135.00px;width:28.10px;height:100.00px;background:rgba(51,153,204,0.9);"></div>
<div class="r" style="left:2970.29px;top:1135.00px;width:28.10px;height:100.00px;background:rgba(51,153,204,0.9);"></div>
<div class="r" style="left:3276.43px;top:1135.00px;width:28.10px;height:100.00px;background:rgba(51,153,204,0.9);"></div>
<div class="r" style="left:242.60px;top:1235.00px;width:3064.90px;height:2.00px;background:#262626;"></div>
<div class="r" style="left:243.00px;top:1237.00px;width:2.00px;height:11.00px;background:#262626;"></div>
<span class="t" style="left:224.53px;top:1250.47px;font-size:20px;color:#333;transform:scaleX(1.0275);">0 ns</span>
<div class="r" style="left:475.00px;top:1237.00px;width:2.00px;height:11.00px;background:#262626;"></div>
<span class="t" style="left:445.86px;top:1250.47px;font-size:20px;color:#333;transform:scaleX(1.0137);">2.0 ms</span>
<div class="r" style="left:708.00px;top:1237.00px;width:2.00px;height:11.00px;background:#262626;"></div>
<span class="t" style="left:678.89px;top:1250.47px;font-size:20px;color:#333;transform:scaleX(1.0034);">4.0 ms</span>
<div class="r" style="left:940.00px;top:1237.00px;width:2.00px;height:11.00px;background:#262626;"></div>
<span class="t" style="left:910.70px;top:1250.47px;font-size:20px;color:#333;transform:scaleX(1.0137);">6.0 ms</span>
<div class="r" style="left:1173.00px;top:1237.00px;width:2.00px;height:11.00px;background:#262626;"></div>
<span class="t" style="left:1143.22px;top:1250.47px;font-size:20px;color:#333;transform:scaleX(1.0120);">8.0 ms</span>
<div class="r" style="left:1405.00px;top:1237.00px;width:2.00px;height:11.00px;background:#262626;"></div>
<span class="t" style="left:1369.47px;top:1250.47px;font-size:20px;color:#333;transform:scaleX(1.0189);">10.0 ms</span>
<div class="r" style="left:1638.00px;top:1237.00px;width:2.00px;height:11.00px;background:#262626;"></div>
<span class="t" style="left:1601.89px;top:1250.47px;font-size:20px;color:#333;transform:scaleX(1.0189);">12.0 ms</span>
<div class="r" style="left:1870.00px;top:1237.00px;width:2.00px;height:11.00px;background:#262626;"></div>
<span class="t" style="left:1834.31px;top:1250.47px;font-size:20px;color:#333;transform:scaleX(1.0189);">14.0 ms</span>
<div class="r" style="left:2102.00px;top:1237.00px;width:2.00px;height:11.00px;background:#262626;"></div>
<span class="t" style="left:2066.73px;top:1250.47px;font-size:20px;color:#333;transform:scaleX(1.0189);">16.0 ms</span>
<div class="r" style="left:2335.00px;top:1237.00px;width:2.00px;height:11.00px;background:#262626;"></div>
<span class="t" style="left:2299.15px;top:1250.47px;font-size:20px;color:#333;transform:scaleX(1.0189);">18.0 ms</span>
<div class="r" style="left:2567.00px;top:1237.00px;width:2.00px;height:11.00px;background:#262626;"></div>
<span class="t" style="left:2532.09px;top:1250.47px;font-size:20px;color:#333;transform:scaleX(1.0115);">20.0 ms</span>
<div class="r" style="left:2800.00px;top:1237.00px;width:2.00px;height:11.00px;background:#262626;"></div>
<span class="t" style="left:2764.51px;top:1250.47px;font-size:20px;color:#333;transform:scaleX(1.0115);">22.0 ms</span>
<div class="r" style="left:3032.00px;top:1237.00px;width:2.00px;height:11.00px;background:#262626;"></div>
<span class="t" style="left:2996.93px;top:1250.47px;font-size:20px;color:#333;transform:scaleX(1.0115);">24.0 ms</span>
<div class="r" style="left:3264.00px;top:1237.00px;width:2.00px;height:11.00px;background:#262626;"></div>
<span class="t" style="left:3229.35px;top:1250.47px;font-size:20px;color:#333;transform:scaleX(1.0115);">26.0 ms</span>
<div class="r" style="left:3305.00px;top:1237.00px;width:2.00px;height:11.00px;background:#262626;"></div>
<div class="r" style="left:130px;top:1350px;width:3230px;height:318px;box-sizing:border-box;border:2px solid #dedede;background:#fff"></div>
<span class="t" style="left:163.70px;top:1389.00px;font-size:34.5px;color:#333;transform:scaleX(0.9687);">Queries</span>
<div class="r" style="left:2960px;top:1394px;width:310px;height:56px;box-sizing:border-box;border:2px solid #dedede;border-radius:5px;background:#fff"></div>
<svg class="r" style="left:2975px;top:1407px" width="30" height="30" viewBox="0 0 30 30"><circle cx="12.4" cy="12.2" r="9.3" fill="none" stroke="#aaa" stroke-width="4"/><path d="M19.4 19.4 L27 27" stroke="#aaa" stroke-width="4.4" stroke-linecap="round"/></svg>
<span class="t" style="left:3017.39px;top:1409.44px;font-size:27px;color:#aaa;transform:scaleX(0.9933);">Search resource</span>
<svg class="r" style="left:3284px;top:1408px" width="28" height="28" viewBox="0 0 28 28"><path d="M27.70 11.65 L27.70 16.35 L23.88 16.52 L22.77 19.20 L25.35 22.02 L22.02 25.35 L19.20 22.77 L16.52 23.88 L16.35 27.70 L11.65 27.70 L11.48 23.88 L8.80 22.77 L5.98 25.35 L2.65 22.02 L5.23 19.20 L4.12 16.52 L0.30 16.35 L0.30 11.65 L4.12 11.48 L5.23 8.80 L2.65 5.98 L5.98 2.65 L8.80 5.23 L11.48 4.12 L11.65 0.30 L16.35 0.30 L16.52 4.12 L19.20 5.23 L22.02 2.65 L25.35 5.98 L22.77 8.80 L23.88 11.48Z M14 9.2 A4.8 4.8 0 1 0 14.01 9.2Z" fill="#8f8f94" fill-rule="evenodd" stroke="#8f8f94" stroke-width="1.2" stroke-linejoin="round"/></svg>
<svg class="r" style="left:186px;top:1486.5px" width="16" height="24" viewBox="0 0 16 24"><path d="M8 1 V20 M1.6 13.6 L8 20.4 L14.4 13.6" fill="none" stroke="#333" stroke-width="3.1"/></svg>
<span class="t" style="left:254.01px;top:1491.06px;font-size:24.5px;color:#333;font-weight:bold;transform:scaleX(0.9960);">NAME</span>
<span class="t" style="left:1695.88px;top:1491.06px;font-size:24.5px;color:#333;font-weight:bold;transform:scaleX(0.8919);">REQUESTS</span>
<span class="t" style="left:1961.91px;top:1491.06px;font-size:24.5px;color:#333;font-weight:bold;transform:scaleX(0.9365);">P50 LATENCY</span>
<span class="t" style="left:2261.71px;top:1491.06px;font-size:24.5px;color:#333;font-weight:bold;transform:scaleX(0.9365);">P99 LATENCY</span>
<span class="t" style="left:2543.96px;top:1491.06px;font-size:24.5px;color:#333;font-weight:bold;transform:scaleX(0.9680);">TOTAL TIME</span>
<span class="t" style="left:2922.98px;top:1491.06px;font-size:24.5px;color:#333;font-weight:bold;transform:scaleX(0.8896);">ERRORS</span>
<span class="t" style="left:3170.76px;top:1491.06px;font-size:24.5px;color:#333;font-weight:bold;transform:scaleX(0.9070);">ERROR RATE</span>
<svg class="r" style="left:2696px;top:1491.5px" width="16" height="24" viewBox="0 0 16 24"><path d="M8 1 V20 M1.6 13.6 L8 20.4 L14.4 13.6" fill="none" stroke="#333" stroke-width="3.1"/></svg>
<div class="r" style="left:164.00px;top:1532.00px;width:3162.00px;height:2.00px;background:#dedede;"></div>
<svg class="r" style="left:0;top:0" width="3400" height="1682" viewBox="0 0 3400 1682"><polygon points="191.90,1550.60 196.95,1560.84 208.26,1562.48 200.08,1570.46 202.01,1581.72 191.90,1576.40 181.79,1581.72 183.72,1570.46 175.54,1562.48 186.85,1560.84" fill="none" stroke="#8c8c8c" stroke-width="2.7" stroke-linejoin="round"/></svg>
<span class="t" style="left:253.64px;top:1556.61px;font-size:25.5px;color:#333;transform:scaleX(1.0604);">initial-access</span>
<span class="t" style="left:1672.87px;top:1556.61px;font-size:25.5px;color:#333;transform:scaleX(1.0128);">36</span>
<div class="r" style="left:1718.10px;top:1548.20px;width:79.70px;height:39.50px;background:#7fbfdf;"></div>
<span class="t" style="left:1928.81px;top:1556.61px;font-size:25.5px;color:#333;transform:scaleX(1.0423);">10 ms</span>
<div class="r" style="left:2018.20px;top:1548.20px;width:79.70px;height:39.50px;background:#7fbfdf;"></div>
<span class="t" style="left:2228.88px;top:1556.61px;font-size:25.5px;color:#333;transform:scaleX(1.0383);">26 ms</span>
<div class="r" style="left:2318.00px;top:1548.20px;width:79.70px;height:39.50px;background:#7fbfdf;"></div>
<span class="t" style="left:2514.77px;top:1556.61px;font-size:25.5px;color:#333;transform:scaleX(1.0360);">412 ms</span>
<div class="r" style="left:2618.10px;top:1548.20px;width:79.70px;height:39.50px;background:#7fbfdf;"></div>
<span class="t" style="left:2886.94px;top:1556.61px;font-size:25.5px;color:#333;">0</span>
<div class="r" style="left:2918.20px;top:1548.20px;width:79.70px;height:39.50px;background:#e6e6e6;"></div>
<span class="t" style="left:3165.62px;top:1556.61px;font-size:25.5px;color:#333;transform:scaleX(0.9589);">0%</span>
<div class="r" style="left:3218.00px;top:1548.20px;width:79.70px;height:39.50px;background:#e6e6e6;"></div>
</div>
</body></html>
